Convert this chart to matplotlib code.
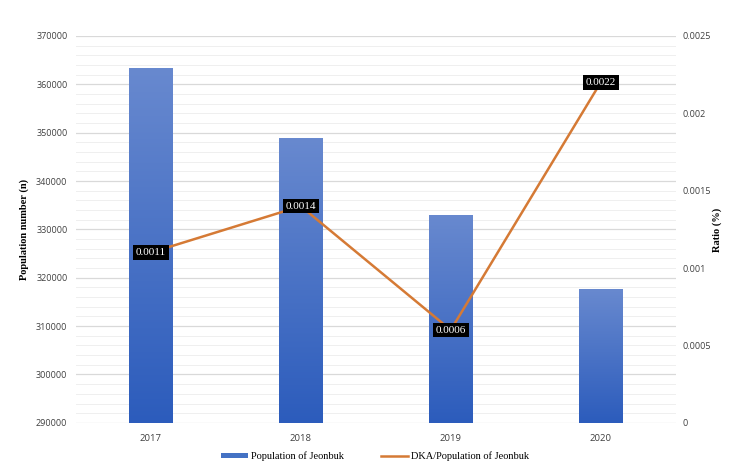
import matplotlib.pyplot as plt
import numpy as np
from matplotlib.ticker import MultipleLocator

years = ["2017", "2018", "2019", "2020"]
population = [363300, 348800, 333000, 317700]
ratio = [0.0011, 0.0014, 0.0006, 0.0022]
ratio_labels = ["0.0011", "0.0014", "0.0006", "0.0022"]

serif = "Liberation Serif"
sans = "Open Sans"

fig = plt.figure(figsize=(7.5, 4.73), dpi=100)
ax = fig.add_axes([0.101, 0.106, 0.8, 0.818])
ax2 = ax.twinx()

x = np.arange(len(years))
bars = ax.bar(x, population, width=0.29, color="#4472c4", zorder=2)

# vertical gradient on each bar, light at the top
grad = np.linspace(0, 1, 256).reshape(-1, 1)
cmap = plt.matplotlib.colors.LinearSegmentedColormap.from_list(
    "bar", ["#2c5cbc", "#6889cf"]
)
for b in bars:
    im = ax.imshow(
        grad,
        cmap=cmap,
        aspect="auto",
        origin="lower",
        extent=[b.get_x(), b.get_x() + b.get_width(), 290000, b.get_height()],
        zorder=3,
    )
    im.set_clip_path(b)

ax.set_xlim(-0.5, 3.5)
ax.set_ylim(290000, 370000)
ax.yaxis.set_major_locator(MultipleLocator(10000))
ax.yaxis.set_minor_locator(MultipleLocator(2000))
ax.grid(axis="y", which="major", color="#d9d9d9", linewidth=0.9, zorder=0)
ax.grid(axis="y", which="minor", color="#efefef", linewidth=0.7, zorder=0)
ax.set_axisbelow(True)
ax.set_xticks(x)
ax.set_xticklabels(years, fontsize=6.8, family=sans, color="#404040")
for lab in ax.get_yticklabels():
    lab.set_fontsize(6.5)
    lab.set_family(sans)
    lab.set_color("#404040")
ax.tick_params(axis="y", which="both", length=0, pad=6)
ax.tick_params(axis="x", which="both", length=0, pad=8)
ax.set_ylabel("Population number (n)", fontsize=7.5, family=serif,
              fontweight="bold", labelpad=5)

ax2.plot(x, ratio, color="#d57a35", linewidth=1.8, zorder=4)
ax2.set_ylim(0, 0.0025)
ax2.set_yticks([0, 0.0005, 0.001, 0.0015, 0.002, 0.0025])
ax2.set_yticklabels(["0", "0.0005", "0.001", "0.0015", "0.002", "0.0025"],
                    fontsize=6.5, family=sans, color="#404040")
ax2.tick_params(axis="y", length=0, pad=5)
ax2.set_ylabel("Ratio (%)", fontsize=7.5, family=serif, fontweight="bold",
               labelpad=1)
for xi, yi, t in zip(x, ratio, ratio_labels):
    ax2.text(xi, yi, t, ha="center", va="center", fontsize=8, family=serif,
             color="white", zorder=5,
             bbox=dict(boxstyle="square,pad=0.25", fc="black", ec="none"))

for a in (ax, ax2):
    for s in a.spines.values():
        s.set_visible(False)

handles = [bars, ax2.lines[0]]
fig.legend(handles, ["Population of Jeonbuk", "DKA/Population of Jeonbuk"],
           loc="center", bbox_to_anchor=(0.5, 0.035), ncol=2, frameon=False,
           prop={"family": serif, "size": 7.5}, handlelength=2.6,
           handleheight=0.4, handletextpad=0.3, columnspacing=3.5)

fig.savefig("out.png", dpi=100)
